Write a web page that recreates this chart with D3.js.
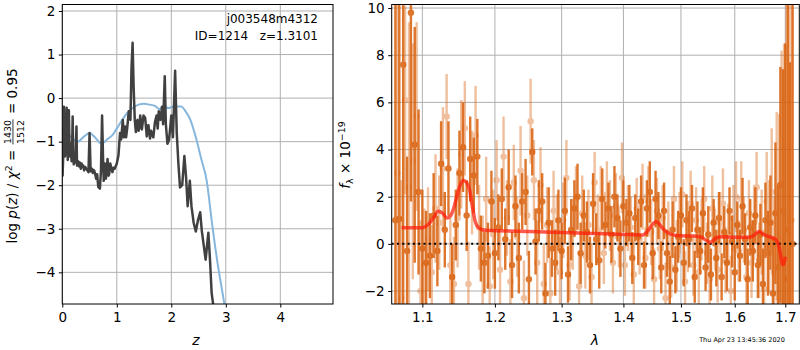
<!DOCTYPE html>
<html><head><meta charset="utf-8">
<script src="https://cdn.jsdelivr.net/npm/d3@7"></script>
<style>body{margin:0;background:#fff} text{font-family:"DejaVu Sans",sans-serif}</style>
</head><body><svg id="c" width="800" height="350"></svg>
<script>
// ---------- left panel: p(z) ----------
const pzZ = [0.005,0.02,0.03,0.04,0.05,0.065,0.08,0.09,0.10,0.11,0.12,0.13,0.14,0.15,0.16,0.17,0.18,0.19,0.20,0.21,0.22,0.23,0.245,0.26,0.27,0.29,0.31,0.32,0.34,0.355,0.37,0.385,0.40,0.42,0.44,0.46,0.48,0.50,0.52,0.54,0.56,0.575,0.59,0.61,0.62,0.64,0.66,0.69,0.71,0.73,0.75,0.76,0.78,0.80,0.82,0.83,0.85,0.86,0.88,0.89,0.92,0.94,0.96,1.00,1.03,1.06,1.08,1.11,1.13,1.15,1.17,1.19,1.22,1.25,1.27,1.29,1.31,1.33,1.35,1.37,1.38,1.40,1.41,1.43,1.45,1.46,1.49,1.52,1.55,1.57,1.58,1.61,1.63,1.64,1.67,1.70,1.73,1.75,1.77,1.80,1.83,1.85,1.88,1.90,1.93,1.96,2.00,2.03,2.07,2.10,2.13,2.16,2.20,2.24,2.27,2.30,2.34,2.37,2.41,2.45,2.49,2.53,2.56,2.59,2.63,2.68,2.71,2.74,2.78];
const pzLog = [-1.80,-1.20,-0.20,-0.90,-1.34,-1.10,-0.22,-0.90,-1.42,-1.20,-0.28,-1.00,-1.27,-1.35,-1.05,-1.45,-1.20,-0.42,-1.30,-1.52,-1.35,-1.48,-1.30,-0.65,-1.55,-1.45,-1.57,-1.48,-1.62,-1.50,-1.58,-1.55,-1.66,-1.58,-1.62,-1.66,-1.70,-0.80,-1.68,-1.62,-1.72,-1.65,-1.68,-1.78,-1.85,-1.75,-2.04,-2.08,-1.65,-0.40,-1.50,-1.90,-1.50,-1.85,-1.60,-1.40,-1.78,-1.75,-1.50,-1.55,-1.70,-1.60,-1.62,-1.50,-1.32,-0.80,-0.95,-0.50,-0.90,-0.65,-0.90,-0.70,-0.30,-0.50,0.70,1.27,0.20,-0.50,-0.78,-0.55,-0.50,-0.75,-0.70,-0.40,-0.62,-0.72,-0.40,-0.45,-0.88,-0.70,-0.62,-0.93,-0.75,-0.80,-0.90,-0.55,-0.40,-0.70,-0.30,-0.50,-0.20,-0.60,0.50,-0.60,-1.05,-0.95,-0.40,-0.90,0.63,-0.80,-1.50,-2.05,-2.00,-1.33,-1.80,-2.48,-1.90,-2.48,-2.86,-3.06,-2.80,-2.62,-3.05,-3.33,-3.71,-3.09,-3.71,-4.47,-4.85];
const chiZ = [0.00,0.06,0.15,0.28,0.40,0.50,0.60,0.72,0.82,0.92,1.00,1.10,1.20,1.30,1.40,1.50,1.60,1.70,1.78,1.85,1.95,2.05,2.18,2.25,2.35,2.45,2.55,2.65,2.75,2.85,2.93,2.99];
const chiLog = [-0.80,-0.79,-0.88,-1.00,-0.88,-0.80,-0.90,-1.05,-0.95,-0.85,-0.70,-0.50,-0.33,-0.22,-0.15,-0.13,-0.15,-0.18,-0.25,-0.19,-0.23,-0.19,-0.19,-0.28,-0.50,-0.90,-1.40,-1.90,-2.90,-3.80,-4.40,-4.85];
const zTicks = [0,1,2,3,4];
const pzTicks = [2,1,0,-1,-2,-3,-4];

// ---------- right panel: spectrum ----------
const darkWave = [1.065,1.07,1.075,1.08,1.085,1.09,1.095,1.1,1.105,1.11,
1.115,1.12,1.125,1.13,1.135,1.14,1.145,1.15,1.155,1.16,
1.165,1.17,1.175,1.18,1.185,1.19,1.195,1.2,1.205,1.21,
1.215,1.22,1.225,1.23,1.235,1.24,1.245,1.25,1.255,1.26,
1.265,1.27,1.275,1.28,1.285,1.29,1.295,1.3,1.305,1.31,
1.315,1.32,1.325,1.33,1.335,1.34,1.345,1.35,1.355,1.36,
1.365,1.37,1.375,1.38,1.385,1.39,1.395,1.4,1.405,1.41,
1.415,1.42,1.425,1.43,1.435,1.44,1.445,1.45,1.455,1.46,
1.465,1.47,1.475,1.48,1.485,1.49,1.495,1.5,1.505,1.51,
1.515,1.52,1.525,1.53,1.535,1.54,1.545,1.55,1.555,1.56,
1.565,1.57,1.575,1.58,1.585,1.59,1.595,1.6,1.605,1.61,
1.615,1.62,1.625,1.63,1.635,1.64,1.645,1.65,1.655,1.66,
1.665,1.67,1.675,1.68,1.685,1.69,1.695,1.7,1.705,1.71,1.715];
const darkFlux = [1.0,1.06,7.6,-0.3,9.8,4.2,2.2,-0.2,-0.8,-0.5,
1.2,-0.3,3.4,0.6,3.2,-1.4,0.8,3.0,4.1,1.2,
3.6,2.9,3.7,-0.2,-0.8,-0.5,1.8,-0.4,0.7,1.9,
0.2,2.4,-0.9,1.6,-0.6,1.8,2.2,-1.5,3.9,0.1,
1.4,1.8,-2.1,0.9,-0.2,-0.8,1.0,-0.3,1.4,-1.3,
0.6,1.5,2.0,-0.4,1.2,0.5,-0.9,1.7,0.2,-0.7,
1.9,0.8,1.5,0.4,2.0,1.1,-0.2,1.6,0.9,1.3,
-0.6,1.1,0.3,1.8,-0.9,1.5,2.2,-0.4,1.9,1.2,
-1.0,1.4,-0.4,-1.6,0.6,-1.1,0.3,1.2,-0.8,1.0,
0.2,1.5,-1.4,0.6,-0.3,1.3,-1.0,0.4,-1.3,0.9,
-0.6,1.1,-1.4,0.5,-0.8,1.4,0.1,-1.2,0.8,-0.5,
1.6,0.2,-1.5,0.7,-0.3,1.2,-0.9,0.4,-1.7,1.0,
-0.4,0.9,-2.1,1.3,-1.0,2.5,1.4,-1.5,0.6,-3.0,0.0];
const darkErr = [14,12,11,4,8,5,3.5,2.5,2.2,1.8,
1.8,1.5,1.8,1.6,2.0,1.4,1.5,1.8,1.9,1.5,
1.8,1.6,1.6,1.4,1.3,1.4,1.3,1.5,1.4,1.3,
1.3,1.6,1.4,1.3,1.5,1.2,1.4,1.2,1.0,1.4,
1.3,1.2,1.3,1.5,1.2,1.4,1.3,1.2,1.4,1.2,
1.3,1.2,1.4,1.3,1.1,1.3,1.2,1.3,1.1,1.2,
1.3,1.0,1.1,1.2,1.3,1.0,1.2,1.1,1.0,1.2,
1.1,1.0,1.2,1.1,1.0,1.2,1.3,1.1,1.2,1.0,
1.1,1.2,1.0,1.1,1.2,1.0,1.1,1.2,1.0,1.1,
1.2,1.0,1.1,1.2,1.0,1.1,1.0,1.2,1.1,1.0,
1.2,1.1,1.0,1.1,1.2,1.0,1.1,1.2,1.0,1.1,
1.2,1.1,1.3,1.2,1.3,1.2,1.4,1.3,1.5,1.6,
1.8,2.0,2.4,3.0,3.5,5,6,10,14,10.7,15];
const lightWave = [1.0675,1.0725,1.0775,1.0825,1.0875,1.0925,1.0975,1.1025,1.1075,1.1125,
1.1175,1.1225,1.1275,1.1325,1.1375,1.1425,1.1475,1.1525,1.1575,1.1625,
1.1675,1.1725,1.1775,1.1825,1.1875,1.1925,1.1975,1.2025,1.2075,1.2125,
1.2175,1.2225,1.2275,1.2325,1.2375,1.2425,1.2475,1.2525,1.2575,1.2625,
1.2675,1.2725,1.2775,1.2825,1.2875,1.2925,1.2975,1.3025,1.3075,1.3125,
1.3175,1.3225,1.3275,1.3325,1.3375,1.3425,1.3475,1.3525,1.3575,1.3625,
1.3675,1.3725,1.3775,1.3825,1.3875,1.3925,1.3975,1.4025,1.4075,1.4125,
1.4175,1.4225,1.4275,1.4325,1.4375,1.4425,1.4475,1.4525,1.4575,1.4625,
1.4675,1.4725,1.4775,1.4825,1.4875,1.4925,1.4975,1.5025,1.5075,1.5125,
1.5175,1.5225,1.5275,1.5325,1.5375,1.5425,1.5475,1.5525,1.5575,1.5625,
1.5675,1.5725,1.5775,1.5825,1.5875,1.5925,1.5975,1.6025,1.6075,1.6125,
1.6175,1.6225,1.6275,1.6325,1.6375,1.6425,1.6475,1.6525,1.6575,1.6625,
1.6675,1.6725,1.6775,1.6825,1.6875,1.6925,1.6975,1.7025,1.7075,1.7125];
const lightFlux = [3,-2.3,6.1,2.4,3.5,5.4,-2.0,-0.9,0.2,-1.2,
1.5,0.9,3.2,5.4,-0.9,-1.7,1.1,3.8,4.9,-1.7,
2.6,4.6,0.7,-0.7,1.9,-1.8,0.4,2.7,-1.1,3.7,
1.1,-1.6,2.6,0.3,3.1,-2.3,1.2,5.2,2.7,-0.8,
2.5,-1.7,0.8,-2.1,1.4,0.5,-1.2,1.0,2.8,-0.9,
0.4,1.9,-1.8,1.3,-0.5,0.8,-1.4,2.6,0.6,1.9,
-0.4,2.1,1.2,-0.8,1.6,0.3,2.8,-0.9,1.1,0.7,
-1.3,1.5,0.2,2.0,-0.6,1.8,0.5,-1.5,1.4,-0.2,
1.1,-2.3,0.4,-1.0,1.9,-0.5,0.9,2.1,-1.6,0.3,
1.7,-0.9,1.0,-1.2,0.6,1.9,-0.4,-1.5,1.5,0.2,
-1.1,0.9,1.7,-0.7,0.4,-2.0,1.1,2.0,-0.3,1.9,
0.6,-1.4,1.3,-0.8,0.9,2.4,-0.7,0.5,-1.9,1.8,
0.3,2.2,-1.2,1.6,0.2,2.6,-0.5,1.0,-2.0,1.0];
const lightErr = [14,5,4,7,5,4,3,2.4,2.2,2.0,
2.3,2.0,2.6,1.8,2.0,2.0,2.1,2.3,2.0,1.8,
2.2,2.1,1.8,1.9,1.8,1.7,1.9,1.7,1.8,1.7,
1.6,1.8,1.6,1.7,1.9,1.6,1.7,1.8,1.7,1.8,
1.6,1.7,1.6,1.5,1.7,1.6,1.5,1.6,1.6,1.5,
1.5,1.4,1.5,1.6,1.4,1.5,1.4,1.3,1.5,1.4,
1.3,1.4,1.5,1.3,1.4,1.3,1.5,1.3,1.4,1.3,
1.4,1.3,1.5,1.4,1.3,1.5,1.4,1.3,1.4,1.3,
1.4,1.5,1.4,1.3,1.4,1.5,1.3,1.4,1.3,1.5,
1.4,1.3,1.4,1.5,1.3,1.4,1.3,1.5,1.4,1.3,
1.4,1.3,1.5,1.4,1.3,1.5,1.4,1.5,1.3,1.6,
1.4,1.5,1.4,1.5,1.6,1.5,1.6,1.8,1.9,2.1,
2.4,2.7,3.2,4.0,5.3,5.6,9,14,14,15];
const modelWave = [1.073,1.08,1.09,1.1,1.105,1.11,1.115,1.121,1.127,1.133,1.138,1.142,1.146,1.15,1.1555,1.16,1.164,1.168,1.172,1.177,1.182,1.19,1.2,1.25,1.3,1.35,1.4,1.433,1.44,1.446,1.452,1.456,1.46,1.466,1.472,1.48,1.49,1.5,1.52,1.535,1.543,1.55,1.553,1.558,1.565,1.575,1.6,1.625,1.635,1.642,1.648,1.655,1.665,1.675,1.682,1.687,1.691,1.694,1.697,1.7];
const modelFlux = [0.69,0.68,0.68,0.68,0.75,0.9,1.12,1.38,1.3,1.1,1.2,1.5,1.95,2.4,2.69,2.6,2.3,1.6,0.95,0.68,0.6,0.57,0.56,0.52,0.48,0.44,0.4,0.38,0.5,0.7,0.88,0.95,0.88,0.7,0.55,0.43,0.36,0.34,0.33,0.3,0.2,0.1,0.06,0.12,0.26,0.3,0.28,0.28,0.33,0.45,0.52,0.42,0.32,0.25,0.15,-0.1,-0.55,-0.88,-0.85,-0.55];
const waveTicks = [1.1,1.2,1.3,1.4,1.5,1.6,1.7];
const fluxTicks = [-2,0,2,4,6,8,10];

// ---------- drawing ----------
const svg = d3.select("#c");
const L = {x0:62.3, x1:333, y0:4.5, y1:304};
const R = {x0:391.7, x1:799.3, y0:4.5, y1:304};
const xz = d3.scaleLinear().domain([0,4.967]).range([L.x0,L.x1]);
const yp = d3.scaleLinear().domain([-4.727,2.149]).range([L.y1,L.y0]);
const xw = d3.scaleLog().domain([1.0603,1.7288]).range([R.x0,R.x1]);
const yf = d3.scaleLinear().domain([-2.55,10.15]).range([R.y1,R.y0]);
const minus = v => (v<0 ? "\u2212"+Math.abs(v) : String(v));
const TICKFS = 13.5, GRID = "#b0b0b0";

const defs = svg.append("defs");
defs.append("clipPath").attr("id","clipL").append("rect").attr("x",L.x0).attr("y",L.y0).attr("width",L.x1-L.x0).attr("height",L.y1-L.y0);
defs.append("clipPath").attr("id","clipR").append("rect").attr("x",R.x0).attr("y",R.y0).attr("width",R.x1-R.x0).attr("height",R.y1-R.y0);

function grid(P, xs, ys, xt, yt){
  const g = svg.append("g").attr("stroke",GRID).attr("stroke-width",1);
  xt.forEach(t=>g.append("line").attr("x1",xs(t)).attr("x2",xs(t)).attr("y1",P.y0).attr("y2",P.y1));
  yt.forEach(t=>g.append("line").attr("x1",P.x0).attr("x2",P.x1).attr("y1",ys(t)).attr("y2",ys(t)));
}
function axes(P, xs, ys, xt, yt, xf, yfm){
  const ax = svg.append("g").attr("transform",`translate(0,${P.y1})`)
    .call(d3.axisBottom(xs).tickValues(xt).tickFormat(xf).tickSizeInner(3.5).tickSizeOuter(0).tickPadding(5));
  const ay = svg.append("g").attr("transform",`translate(${P.x0},0)`)
    .call(d3.axisLeft(ys).tickValues(yt).tickFormat(yfm).tickSizeInner(3.5).tickSizeOuter(0).tickPadding(3.5));
  [ax,ay].forEach(a=>{
    a.select(".domain").remove();
    a.selectAll("text").attr("font-size",TICKFS).attr("font-family","DejaVu Sans").attr("fill","#000");
    a.selectAll("line").attr("stroke","#000").attr("stroke-width",1);
  });
  svg.append("rect").attr("x",P.x0).attr("y",P.y0).attr("width",P.x1-P.x0).attr("height",P.y1-P.y0)
    .attr("fill","none").attr("stroke","#000").attr("stroke-width",1);
}

// Left panel
grid(L, xz, yp, zTicks, pzTicks);
const gL = svg.append("g").attr("clip-path","url(#clipL)");
gL.append("path").datum(chiZ.map((z,i)=>[z,chiLog[i]]))
  .attr("d", d3.line().x(d=>xz(d[0])).y(d=>yp(d[1])).curve(d3.curveMonotoneX))
  .attr("fill","none").attr("stroke","#86b6dc").attr("stroke-width",2);
gL.append("path").datum(pzZ.map((z,i)=>[z,pzLog[i]]))
  .attr("d", d3.line().x(d=>xz(d[0])).y(d=>yp(d[1])))
  .attr("fill","none").attr("stroke","#404040").attr("stroke-width",2.5).attr("stroke-linejoin","round");
axes(L, xz, yp, zTicks, pzTicks, minus, minus);

svg.append("text").attr("x",318).attr("y",23).attr("text-anchor","end").attr("font-size",12).text("j003548m4312");
svg.append("text").attr("x",318).attr("y",40).attr("text-anchor","end").attr("font-size",12)
  .style("white-space","pre").text("ID=1214   z=1.3101");

// Right panel
grid(R, xw, yf, waveTicks, fluxTicks);
const gR = svg.append("g").attr("clip-path","url(#clipR)");
const ORANGE = "#d9600b";
function errSeries(wave, flux, err, op){
  const g = gR.append("g").attr("opacity",op);
  wave.forEach((w,i)=>{
    g.append("line").attr("x1",xw(w)).attr("x2",xw(w))
      .attr("y1",yf(flux[i]-err[i])).attr("y2",yf(flux[i]+err[i]))
      .attr("stroke",ORANGE).attr("stroke-width",2.4);
    g.append("circle").attr("cx",xw(w)).attr("cy",yf(flux[i])).attr("r",3.2).attr("fill",ORANGE);
  });
}
errSeries(darkWave, darkFlux, darkErr, 0.85);
errSeries(lightWave, lightFlux, lightErr, 0.4);
gR.append("line").attr("x1",R.x0).attr("x2",R.x1).attr("y1",yf(0)).attr("y2",yf(0))
  .attr("stroke","#000").attr("stroke-width",2).attr("stroke-dasharray","2,3.3");
gR.append("path").datum(modelWave.map((w,i)=>[w,modelFlux[i]]))
  .attr("d", d3.line().x(d=>xw(d[0])).y(d=>yf(d[1])).curve(d3.curveMonotoneX))
  .attr("fill","none").attr("stroke","#ff1a0a").attr("stroke-opacity",0.72).attr("stroke-width",3.5);
axes(R, xw, yf, waveTicks, fluxTicks, d3.format(".1f"), minus);

// axis labels
svg.append("text").attr("x",196).attr("y",345).attr("text-anchor","middle").attr("font-size",14).attr("font-style","italic").text("z");
svg.append("text").attr("x",595).attr("y",345).attr("text-anchor","middle").attr("font-size",14).attr("font-style","italic").text("λ");
svg.append("text").attr("x",742).attr("y",342).attr("text-anchor","middle").attr("font-size",6.5).text("Thu Apr 23 13:45:36 2020");

function rich(g, pieces, fs){
  let x = 0;
  pieces.forEach(p=>{
    if(p.frac){
      const sz = fs*0.7;
      const a = g.append("text").attr("font-size",sz).attr("text-anchor","middle").text(p.frac[0]);
      const b = g.append("text").attr("font-size",sz).attr("text-anchor","middle").text(p.frac[1]);
      const w = Math.max(a.node().getComputedTextLength(), b.node().getComputedTextLength()) + 3;
      a.attr("x",x+w/2).attr("y",-fs*0.42);
      b.attr("x",x+w/2).attr("y",fs*0.52);
      g.append("line").attr("x1",x+1).attr("x2",x+w-1).attr("y1",-fs*0.3).attr("y2",-fs*0.3).attr("stroke","#000").attr("stroke-width",0.8);
      x += w;
    } else {
      const t = g.append("text").attr("x",x).attr("y",p.dy||0).attr("font-size",p.s?fs*p.s:fs)
        .attr("font-style",p.i?"italic":null).style("white-space","pre").text(p.t);
      x += t.node().getComputedTextLength();
    }
  });
  return x;
}
const gyl = svg.append("g");
const wl = rich(gyl, [{t:"log "},{t:"p",i:1},{t:"("},{t:"z",i:1},{t:") / "},{t:"χ",i:1},{t:"2",s:0.7,dy:-5.5},{t:" = "},{frac:["1430","1512"]},{t:" = 0.95"}], 13.5);
gyl.attr("transform",`translate(17,${156+wl/2}) rotate(-90)`);
const gyr = svg.append("g");
const wr = rich(gyr, [{t:"f",i:1},{t:"λ",s:0.7,dy:3},{t:" × 10"},{t:"−19",s:0.7,dy:-5.5}], 13.5);
gyr.attr("transform",`translate(350,${155+wr/2}) rotate(-90)`);
</script></body></html>
